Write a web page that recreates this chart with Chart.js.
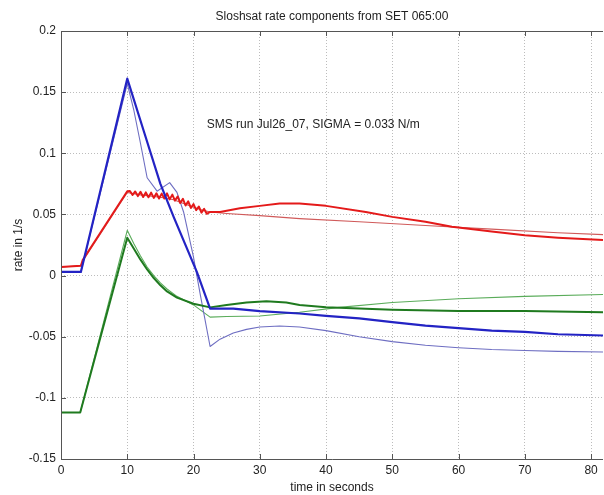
<!DOCTYPE html>
<html><head><meta charset="utf-8">
<script src="https://cdn.jsdelivr.net/npm/chart.js@4/dist/chart.umd.min.js"></script>
<style>html,body{margin:0;padding:0;background:#fff}</style>
</head><body>
<canvas id="c" width="604" height="495"></canvas>
<script>
const chartTitle = "Sloshsat rate components from SET 065:00";
const xLabel = "time in seconds";
const yLabel = "rate in 1/s";
const annotationText = "SMS run Jul26_07, SIGMA = 0.033 N/m";
const annotationAt = [22, 0.123];

const xTicksStep = 10, xMin = 0, xMax = 81.8;
const yTicksStep = 0.05, yMin = -0.15, yMax = 0.2;

// measured (noisy) blue
const blueMeasT = [0, 3, 10, 12.5, 15, 17, 20.5, 22.5, 26, 30, 36, 40, 45, 50, 55, 60, 65, 70, 75, 81.8];
const blueMeasV = [0.003, 0.003, 0.161, 0.118, 0.075, 0.048, 0.003, -0.027, -0.027, -0.029, -0.031, -0.033, -0.035, -0.038, -0.041, -0.043, -0.045, -0.046, -0.048, -0.049];
// model blue
const blueModT = [0, 3, 10, 11, 12, 13, 14.5, 16.4, 17.5, 18.5, 20, 21, 22.5, 24, 26, 28, 30, 33, 36, 40, 45, 50, 55, 60, 65, 70, 75, 81.8];
const blueModV = [0.003, 0.003, 0.157, 0.135, 0.108, 0.080, 0.069, 0.076, 0.068, 0.052, 0.015, -0.015, -0.058, -0.052, -0.047, -0.044, -0.042, -0.0412, -0.042, -0.045, -0.050, -0.054, -0.057, -0.059, -0.0605, -0.0613, -0.062, -0.0625];

// measured red
const redMeasT = [0, 3, 3.3, 10, 10.4, 10.8, 11.2, 11.6, 12.0, 12.4, 12.8, 13.2, 13.6, 14.0, 14.4, 14.8, 15.2, 15.6, 16.0, 16.4, 16.8, 17.2, 17.6, 18.0, 18.4, 18.8, 19.2, 19.6, 20.0, 20.4, 20.8, 21.2, 21.6, 22.0, 22.5, 24, 27, 30, 33, 36, 40, 46, 50, 55, 59, 65, 70, 75, 81.8];
const redMeasV = [0.007, 0.008, 0.013, 0.069, 0.0692, 0.0659, 0.0688, 0.0650, 0.0685, 0.0642, 0.068, 0.064, 0.0678, 0.0635, 0.0673, 0.063, 0.067, 0.063, 0.0672, 0.0623, 0.0662, 0.0613, 0.0647, 0.0593, 0.0627, 0.0573, 0.0607, 0.0553, 0.0585, 0.0535, 0.0565, 0.0515, 0.0545, 0.0505, 0.052, 0.052, 0.055, 0.057, 0.059, 0.059, 0.057, 0.052, 0.048, 0.044, 0.040, 0.036, 0.033, 0.031, 0.029];
// model red
const redModT = [0, 3, 3.3, 10, 12, 15, 17, 19, 21, 22.5, 25, 30, 36, 45, 55, 65, 75, 81.8];
const redModV = [0.007, 0.008, 0.012, 0.068, 0.066, 0.064, 0.062, 0.058, 0.054, 0.052, 0.0508, 0.049, 0.0466, 0.044, 0.041, 0.038, 0.035, 0.0335];

// measured green
const greenMeasT = [0, 2.9, 10, 11, 12, 13, 14, 15, 16, 17.5, 20, 22.5, 25, 28, 31, 34, 36, 40, 45, 50, 60, 70, 81.8];
const greenMeasV = [-0.112, -0.112, 0.031, 0.022, 0.013, 0.005, -0.002, -0.008, -0.013, -0.018, -0.023, -0.026, -0.024, -0.022, -0.021, -0.022, -0.024, -0.026, -0.027, -0.028, -0.029, -0.029, -0.030];
// model green
const greenModT = [0, 2.9, 10, 11, 12, 13, 14, 15, 16, 17.5, 20, 22.5, 25, 30, 36, 42, 50, 60, 70, 81.8];
const greenModV = [-0.112, -0.112, 0.037, 0.026, 0.016, 0.007, 0.000, -0.006, -0.011, -0.017, -0.024, -0.034, -0.0335, -0.033, -0.030, -0.026, -0.022, -0.019, -0.017, -0.0155];

const FONT = "'Liberation Sans', Arial, sans-serif";
const zip = (t, v) => t.map((x, i) => ({x: x, y: v[i]}));

function series(label, t, v, color, width) {
  return {label, data: zip(t, v), borderColor: color, borderWidth: width,
          pointRadius: 0, tension: 0, fill: false, borderJoinStyle: 'round'};
}

const framePlugin = {
  id: 'frame',
  afterDraw(chart) {
    const {ctx, chartArea: a, scales: {x, y}} = chart;
    ctx.save();
    ctx.strokeStyle = '#555';
    ctx.lineWidth = 1;
    ctx.beginPath();
    ctx.moveTo(a.left + 0.5, a.top + 0.5); ctx.lineTo(a.left + 0.5, a.bottom + 0.5);
    ctx.lineTo(a.right, a.bottom + 0.5);
    ctx.moveTo(a.left, a.top + 0.5); ctx.lineTo(a.right, a.top + 0.5);
    x.ticks.forEach(t => {
      const px = Math.round(x.getPixelForValue(t.value)) + 0.5;
      ctx.moveTo(px, a.bottom); ctx.lineTo(px, a.bottom - 5);
      ctx.moveTo(px, a.top); ctx.lineTo(px, a.top + 5);
    });
    y.ticks.forEach(t => {
      const py = Math.round(y.getPixelForValue(t.value)) + 0.5;
      ctx.moveTo(a.left, py); ctx.lineTo(a.left + 5, py);
    });
    ctx.stroke();
    ctx.fillStyle = '#222';
    ctx.font = '12px ' + FONT;
    ctx.textBaseline = 'middle';
    ctx.textAlign = 'left';
    ctx.fillText(annotationText, x.getPixelForValue(annotationAt[0]), y.getPixelForValue(annotationAt[1]));
    ctx.restore();
  }
};

new Chart(document.getElementById('c'), {
  type: 'line',
  data: {
    datasets: [
      series('blue measured', blueMeasT, blueMeasV, '#2323c4', 2.2),
      series('red measured', redMeasT, redMeasV, '#e41a1a', 2.0),
      series('green measured', greenMeasT, greenMeasV, '#1f7a1f', 2.0),
      series('blue model', blueModT, blueModV, '#6e6ec2', 1.1),
      series('red model', redModT, redModV, '#d05a5a', 1.1),
      series('green model', greenModT, greenModV, '#5aac5a', 1.1)
    ]
  },
  options: {
    responsive: false,
    animation: false,
    layout: {padding: {top: 0, right: 1, bottom: 0, left: 0}},
    plugins: {
      legend: {display: false},
      tooltip: {enabled: false},
      title: {display: true, text: chartTitle, fullSize: false, color: '#222',
              font: {family: FONT, size: 12, weight: 'normal', lineHeight: 1.2},
              padding: {top: 9, bottom: 7.6}}
    },
    scales: {
      x: {
        type: 'linear', min: xMin, max: xMax,
        afterFit(s) { s.height = 36; },
        ticks: {stepSize: xTicksStep, includeBounds: false, color: '#222', padding: 4,
                maxRotation: 0, font: {family: FONT, size: 12}},
        grid: {color: 'rgba(160,160,160,0.7)', drawTicks: false, lineWidth: 1},
        border: {display: false, dash: [1, 2]},
        title: {display: true, text: xLabel, color: '#222', padding: 0,
                font: {family: FONT, size: 12, lineHeight: 1.2}}
      },
      y: {
        type: 'linear', min: yMin, max: yMax,
        afterFit(s) { s.width = 61; },
        ticks: {stepSize: yTicksStep, color: '#222', padding: 5,
                font: {family: FONT, size: 12},
                callback: v => String(Number(v.toFixed(2)))},
        grid: {color: 'rgba(160,160,160,0.7)', drawTicks: false, lineWidth: 1},
        border: {display: false, dash: [1, 2]},
        title: {display: true, text: yLabel, color: '#222', padding: 11,
                font: {family: FONT, size: 12, lineHeight: 1.2}}
      }
    }
  },
  plugins: [framePlugin]
});
</script>
</body></html>
